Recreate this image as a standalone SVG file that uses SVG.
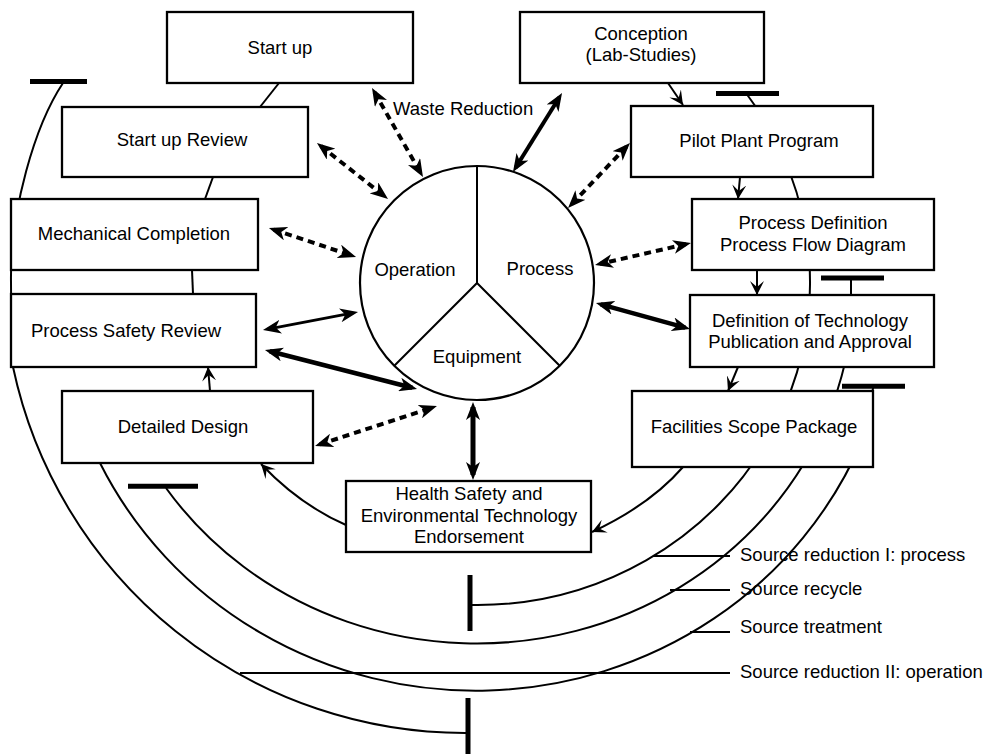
<svg xmlns="http://www.w3.org/2000/svg" width="985" height="754" viewBox="0 0 985 754">
<style>
.box{fill:#fff;stroke:#000;stroke-width:2.3}
.t{font-family:"Liberation Sans",Arial,Helvetica,sans-serif;font-size:18.5px;fill:#000}
.m{text-anchor:middle}
.ln{fill:none;stroke:#000;stroke-width:2}
.bar{stroke:#000;stroke-width:5;fill:none}
.dsh{fill:none;stroke:#000;stroke-width:4;stroke-dasharray:7 5;marker-start:url(#hw);marker-end:url(#hw)}
.sol{fill:none;stroke:#000;stroke-width:4;marker-start:url(#hw);marker-end:url(#hw)}
.fl{fill:none;stroke:#000;stroke-width:2;marker-end:url(#ha)}
</style>
<defs>
<marker id="hw" viewBox="0 0 18 14" markerWidth="18" markerHeight="14" refX="13" refY="7" orient="auto-start-reverse" markerUnits="userSpaceOnUse"><path d="M0,0 L18,7 L0,14 L5,7 z" fill="#000"/></marker>
<marker id="ha" viewBox="0 0 14 14" markerWidth="14" markerHeight="14" refX="14" refY="7" orient="auto" markerUnits="userSpaceOnUse"><path d="M0,0 L14,7 L0,14 L6,7 z" fill="#000"/></marker>
</defs>
<rect width="985" height="754" fill="#fff"/>
<g id="connectors">
  <!-- source lines -->
  <path class="ln" d="M747.4,95 A333,322 0 0 1 470,604.9"/>
  <path class="ln" d="M851,278 L851,300 L853,310 A377,358 0 0 1 166,488"/>
  <path class="ln" d="M873.5,386 L862.3,440 A418,405 0 0 1 100,463"/>
  <path class="ln" d="M63,83 C35,125 10,210 11,282 C11,320 12,345 13,367 A462,462 0 0 0 468,733"/>
  <!-- T-bars -->
  <line class="bar" x1="30" y1="81.5" x2="87" y2="81.5"/>
  <line class="bar" x1="716" y1="93.5" x2="779" y2="93.5"/>
  <line class="bar" x1="821" y1="278" x2="884" y2="278"/>
  <line class="bar" x1="842" y1="386.3" x2="905" y2="386.3"/>
  <line class="bar" x1="128" y1="486.3" x2="198" y2="486.3"/>
  <line class="bar" x1="470" y1="575" x2="470" y2="631"/>
  <line class="bar" x1="468" y1="698" x2="468" y2="754"/>
  <!-- leaders -->
  <line class="ln" x1="653" y1="556" x2="730" y2="556"/>
  <line class="ln" x1="670" y1="590" x2="730" y2="590"/>
  <line class="ln" x1="690" y1="632" x2="730" y2="632"/>
  <line class="ln" x1="240" y1="673" x2="730" y2="673"/>
  <!-- main flow -->
  <path class="fl" d="M668,83 L683,105"/>
  <path class="fl" d="M740,177 L738,199"/>
  <path class="fl" d="M757,270 L757,295"/>
  <path class="fl" d="M738,367 L728,391"/>
  <path class="fl" d="M683,467 Q650,505 592,532"/>
  <path class="fl" d="M346,525 Q300,505 261,464"/>
  <path class="fl" d="M210,391 L208,367"/>
  <path class="ln" d="M279,83 L260,107"/>
  <path class="ln" d="M213,177 L205,199"/>
  <path class="ln" d="M192,270 L193,294"/>
  <!-- wheel arrows -->
  <line class="dsh" x1="374.5" y1="92.3" x2="420.5" y2="172.7"/>
  <line class="sol" x1="559.4" y1="97.2" x2="515.6" y2="167.8"/>
  <line class="dsh" x1="320.9" y1="146.1" x2="384.1" y2="195.9"/>
  <line class="dsh" x1="273.7" y1="229.6" x2="351.3" y2="255.4"/>
  <line class="sol" style="stroke-width:3" x1="267.9" y1="329.1" x2="353.1" y2="312.9"/>
  <line class="sol" style="stroke-width:4.5" x1="269.8" y1="351.2" x2="412.2" y2="387.8"/>
  <line class="dsh" x1="319.8" y1="444.4" x2="432.2" y2="407.6"/>
  <line class="sol" style="stroke-width:5" x1="473" y1="407" x2="473" y2="475"/>
  <line class="dsh" x1="626.5" y1="146.6" x2="571.5" y2="204.4"/>
  <line class="dsh" x1="686.1" y1="244.1" x2="599.9" y2="263.9"/>
  <line class="sol" style="stroke-width:4.5" x1="600.8" y1="304.3" x2="685.2" y2="327.7"/>
  <!-- labels -->
  <text class="t" x="393" y="115">Waste Reduction</text>
  <text class="t" x="740" y="561">Source reduction I: process</text>
  <text class="t" x="740" y="595">Source recycle</text>
  <text class="t" x="740" y="633">Source treatment</text>
  <text class="t" x="740" y="678">Source reduction II: operation</text>
</g>
<g id="wheel">
  <circle cx="477" cy="283" r="117" fill="#fff" stroke="#000" stroke-width="2.2"/>
  <path class="ln" d="M477,166 L477,283 L394.3,365.7 M477,283 L559.7,365.7"/>
  <text class="t m" x="415" y="276">Operation</text>
  <text class="t m" x="540" y="275">Process</text>
  <text class="t m" x="477" y="363">Equipment</text>
</g>
<g id="start-up"><rect class="box" x="167" y="12" width="246" height="71"/><text class="t m" x="280" y="54">Start up</text></g>
<g id="conception"><rect class="box" x="520" y="12" width="244" height="71"/><text class="t m" x="641" y="40">Conception</text><text class="t m" x="641" y="61">(Lab-Studies)</text></g>
<g id="start-up-review"><rect class="box" x="62" y="107" width="246" height="70"/><text class="t m" x="182" y="146">Start up Review</text></g>
<g id="mechanical-completion"><rect class="box" x="11" y="199" width="247" height="71"/><text class="t m" x="134" y="240">Mechanical Completion</text></g>
<g id="process-safety-review"><rect class="box" x="11" y="294" width="245" height="73"/><text class="t m" x="126" y="337">Process Safety Review</text></g>
<g id="detailed-design"><rect class="box" x="62" y="391" width="251" height="72"/><text class="t m" x="183" y="433">Detailed Design</text></g>
<g id="pilot-plant"><rect class="box" x="631" y="106" width="242" height="71"/><text class="t m" x="759" y="147">Pilot Plant Program</text></g>
<g id="process-definition"><rect class="box" x="692" y="199" width="242" height="71"/><text class="t m" x="813" y="229">Process Definition</text><text class="t m" x="813" y="251">Process Flow Diagram</text></g>
<g id="definition-technology"><rect class="box" x="690" y="295" width="244" height="72"/><text class="t m" x="810" y="327">Definition of Technology</text><text class="t m" x="810" y="348">Publication and Approval</text></g>
<g id="facilities-scope"><rect class="box" x="632" y="391" width="241" height="76"/><text class="t m" x="754" y="433">Facilities Scope Package</text></g>
<g id="hse-endorsement"><rect class="box" x="346" y="481" width="245" height="71"/><text class="t m" x="469" y="500">Health Safety and</text><text class="t m" x="469" y="522">Environmental Technology</text><text class="t m" x="469" y="543">Endorsement</text></g>
</svg>
